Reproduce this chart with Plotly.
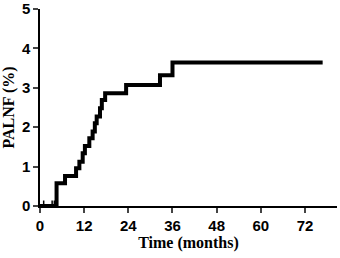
import plotly.graph_objects as go

# Step times (months) and cumulative incidence (%)
times = [0, 4.5, 6.8, 9.8, 10.7, 11.6, 12.2, 13.4, 14.3, 14.9, 15.4, 16.3, 16.8, 17.7, 23.4, 32.6, 36.0, 76.8]
values = [0, 0.58, 0.76, 0.96, 1.12, 1.34, 1.52, 1.72, 1.89, 2.10, 2.27, 2.48, 2.69, 2.86, 3.07, 3.32, 3.64, 3.64]

# Censoring marks near the start
cens_t = [1.0, 3.3, 3.9]
cens_v = [0.05, 0.05, 0.05]

x_ticks = [0, 12, 24, 36, 48, 60, 72]
y_ticks = [0, 1, 2, 3, 4, 5]

fig = go.Figure()
fig.add_trace(go.Scatter(x=times, y=values, mode="lines", line=dict(shape="hv", color="black", width=4),
                         showlegend=False, cliponaxis=False))
fig.add_trace(go.Scatter(x=cens_t, y=cens_v, mode="markers",
                         marker=dict(symbol="line-ns", size=5, line=dict(color="black", width=1.5)),
                         showlegend=False, cliponaxis=False))

tickfont = dict(family="Liberation Sans", size=15, color="black", weight="bold")
titlefont = dict(family="Liberation Serif", size=16, color="black", weight="bold")

fig.update_layout(
    width=340, height=258,
    margin=dict(l=40, r=3, t=9, b=52),
    paper_bgcolor="white", plot_bgcolor="white",
    xaxis=dict(range=[0, 80.7], tickvals=x_ticks, ticks="outside", ticklen=5, tickwidth=1.5,
               showline=True, linecolor="black", linewidth=1.5, showgrid=False, zeroline=False,
               automargin=False,
               tickfont=tickfont, title=dict(text="Time (months)", font=titlefont, standoff=4)),
    yaxis=dict(range=[0, 5], tickvals=y_ticks, ticks="outside", ticklen=5, tickwidth=1.5,
               showline=True, linecolor="black", linewidth=1.5, showgrid=False, zeroline=False,
               automargin=False,
               tickfont=tickfont, title=dict(text="PALNF (%)", font=titlefont, standoff=4)),
)

fig.write_html("out.html", config={"displayModeBar": False},
               post_script="document.body.style.margin='0';")
